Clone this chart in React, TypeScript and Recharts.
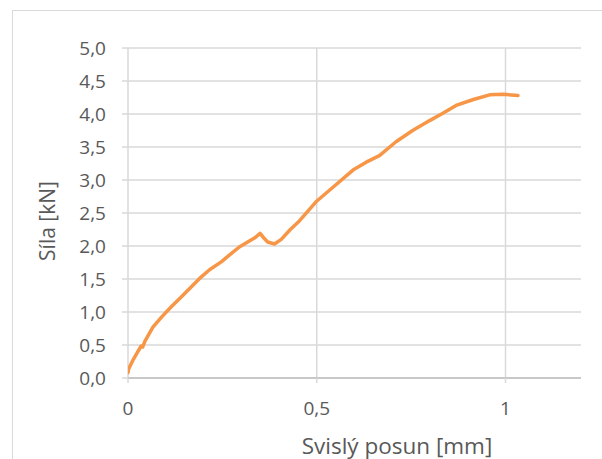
import React from 'react';
import { LineChart, Line, XAxis, YAxis, CartesianGrid, Label } from 'recharts';

const displacement = [0, 0.002, 0.013, 0.025, 0.035, 0.039, 0.045, 0.066, 0.09, 0.114, 0.145, 0.189, 0.216, 0.247, 0.27, 0.295, 0.317, 0.335, 0.35, 0.36, 0.37, 0.388, 0.406, 0.43, 0.454, 0.498, 0.543, 0.596, 0.631, 0.666, 0.71, 0.754, 0.799, 0.834, 0.869, 0.915, 0.958, 0.993, 1.033];
const force = [0.08, 0.14, 0.27, 0.39, 0.485, 0.47, 0.56, 0.77, 0.93, 1.076, 1.25, 1.505, 1.64, 1.76, 1.87, 1.985, 2.06, 2.12, 2.19, 2.12, 2.06, 2.03, 2.1, 2.25, 2.38, 2.67, 2.89, 3.15, 3.27, 3.37, 3.58, 3.75, 3.9, 4.01, 4.13, 4.22, 4.29, 4.3, 4.28];
const xTicks = [0, 0.5, 1];
const yTicks = [0, 0.5, 1, 1.5, 2, 2.5, 3, 3.5, 4, 4.5, 5];
const xTitle = 'Svislý posun [mm]';
const yTitle = 'Síla [kN]';

const data = displacement.map((x, i) => ({ x, y: force[i] }));

const FONT = 'Open Sans, sans-serif';
const TEXT = '#595959';
const GRID = '#D9D9D9';

const fmtX = (v: number) => String(v).replace('.', ',');
const fmtY = (v: number) => v.toFixed(1).replace('.', ',');

export default function App() {
  return (
    <div style={{ position: 'absolute', left: 0, top: 0, width: 602, height: 459, background: '#fff', overflow: 'hidden' }}>
      <div style={{ position: 'absolute', left: 12, top: 10, width: 620, height: 480, border: '1px solid #D9D9D9', boxSizing: 'border-box' }} />
      <div style={{ position: 'absolute', left: 0, top: 0 }}>
        <LineChart width={602} height={459} data={data} margin={{ top: 48, right: 21, bottom: 0, left: 0 }}>
          <CartesianGrid stroke={GRID} strokeWidth={1.5} verticalValues={xTicks} horizontalValues={yTicks} />
          <XAxis
            dataKey="x"
            type="number"
            domain={[0, 1.2]}
            ticks={xTicks}
            tickFormatter={fmtX}
            height={81}
            tickSize={5}
            tickMargin={19}
            axisLine={{ stroke: '#BFBFBF', strokeWidth: 1.5 }}
            tickLine={{ stroke: GRID, strokeWidth: 1.5 }}
            tick={{ fill: TEXT, fontSize: 19, fontFamily: FONT }}
            allowDataOverflow
          >
            <Label
              content={({ viewBox }: any) => (
                <text x={397} y={viewBox.y + 67} textAnchor="middle" dominantBaseline="central" fill={TEXT} fontSize={22.5} fontFamily={FONT}>
                  {xTitle}
                </text>
              )}
            />
          </XAxis>
          <YAxis
            dataKey="y"
            type="number"
            domain={[0, 5]}
            ticks={yTicks}
            tickFormatter={fmtY}
            width={128}
            tickSize={6}
            tickMargin={16}
            axisLine={false}
            tickLine={{ stroke: GRID, strokeWidth: 1.5 }}
            tick={{ fill: TEXT, fontSize: 19, fontFamily: FONT }}
          >
            <Label
              content={({ viewBox }: any) => {
                const cx = 47;
                const cy = viewBox.y + viewBox.height / 2 + 8;
                return (
                  <text x={cx} y={cy} transform={`rotate(-90 ${cx} ${cy})`} textAnchor="middle" dominantBaseline="central" fill={TEXT} fontSize={21} fontFamily={FONT}>
                    {yTitle}
                  </text>
                );
              }}
            />
          </YAxis>
          <Line type="linear" dataKey="y" stroke="#F79646" strokeWidth={3.5} dot={false} isAnimationActive={false} strokeLinejoin="round" strokeLinecap="round" />
        </LineChart>
      </div>
    </div>
  );
}
